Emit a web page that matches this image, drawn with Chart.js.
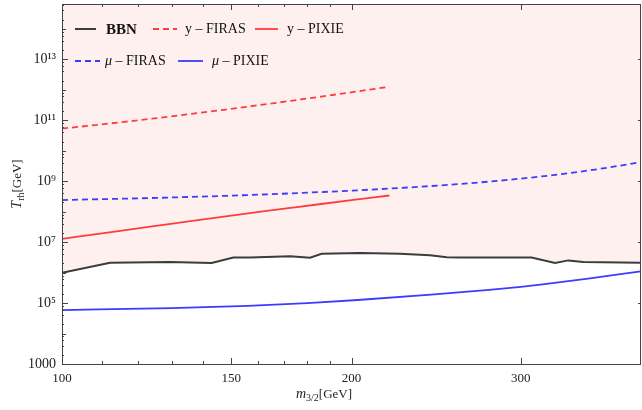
<!DOCTYPE html>
<html>
<head>
<meta charset="utf-8">
<script src="https://cdn.jsdelivr.net/npm/chart.js@4.4.1/dist/chart.umd.min.js"></script>
<style>
  html, body { margin: 0; padding: 0; background: #fff; }
  #wrap { width: 642px; height: 410px; }
</style>
</head>
<body>
<div id="wrap"><canvas id="chart" width="642" height="410"></canvas></div>
<script>
// values (m3/2 in GeV, T_rh in GeV)
const massBBN = [100, 112.2, 129.5, 143.1, 150.7, 156.9, 172.6, 181.1, 186.2, 204.1, 224.6, 241.3, 251.2, 259.3, 307.8, 325.6, 336.1, 348.4, 400];
const trhBBN = [9.9e5, 2.11e6, 2.21e6, 2.05e6, 3.13e6, 3.13e6, 3.44e6, 3.06e6, 4.11e6, 4.43e6, 4.11e6, 3.71e6, 3.2e6, 3.13e6, 3.13e6, 2.05e6, 2.51e6, 2.21e6, 2.11e6];

const massY = [100, 112, 124, 136, 148, 161, 173, 186, 199, 219];
const trhYFiras = [5.3e10, 7.78e10, 1.12e11, 1.6e11, 2.24e11, 3.18e11, 4.33e11, 5.96e11, 8.07e11, 1.25e12];
const trhYPixie = [1.28e7, 2.1e7, 3.27e7, 4.89e7, 7.0e7, 9.93e7, 1.33e8, 1.78e8, 2.33e8, 3.38e8];

const massMuFiras = [100, 124, 148, 181, 219, 254, 289, 330, 362, 400];
const trhMuFiras = [2.4e8, 2.8e8, 3.3e8, 4.22e8, 5.7e8, 7.69e8, 1.08e9, 1.69e9, 2.52e9, 4.22e9];

const massMuPixie = [100, 130, 156, 180, 203, 242, 278, 300, 316, 354, 400];
const trhMuPixie = [5.9e4, 6.82e4, 8.04e4, 9.95e4, 1.26e5, 1.9e5, 2.72e5, 3.42e5, 4.09e5, 6.43e5, 1.1e6];

const xTickValues = [100, 150, 200, 300];
const xMinorTicks = [110, 120, 130, 140, 160, 170, 180, 190];
const yTickValues = [1e3, 1e5, 1e7, 1e9, 1e11, 1e13];
const yTickLabels = ['1000', '10⁵', '10⁷', '10⁹', '10¹¹', '10¹³'];

const RED = 'rgb(255,60,60)';
const BLUE = 'rgb(60,60,255)';
const DARK = 'rgb(60,60,60)';
const SERIF = '"Liberation Serif", "DejaVu Serif", serif';

function pts(xs, ys) {
  return xs.map((x, i) => ({ x: x, y: ys[i] }));
}

// frame, inward ticks, axis titles and the two-row legend
const decorations = {
  id: 'decorations',
  afterDraw(chart) {
    const ctx = chart.ctx;
    const a = chart.chartArea;
    const xs = chart.scales.x, ys = chart.scales.y;
    ctx.save();
    ctx.strokeStyle = '#444';
    ctx.lineWidth = 1;
    ctx.strokeRect(a.left + 0.5, a.top + 0.5, a.right - a.left - 1, a.bottom - a.top);

    ctx.beginPath();
    xTickValues.forEach(v => {
      const px = Math.round(xs.getPixelForValue(v)) + 0.5;
      ctx.moveTo(px, a.bottom); ctx.lineTo(px, a.bottom - 6);
      ctx.moveTo(px, a.top); ctx.lineTo(px, a.top + 6);
    });
    xMinorTicks.forEach(v => {
      const px = Math.round(xs.getPixelForValue(v)) + 0.5;
      ctx.moveTo(px, a.bottom); ctx.lineTo(px, a.bottom - 3);
      ctx.moveTo(px, a.top); ctx.lineTo(px, a.top + 3);
    });
    for (let e = 3; e <= 14; e++) {
      [1, 2, 4, 6, 8].forEach(k => {
        const v = k * Math.pow(10, e);
        if (v > ys.max) return;
        const py = Math.round(ys.getPixelForValue(v)) + 0.5;
        let len = 2;
        if (k === 1) len = (e % 2 === 1) ? 6 : 4;
        ctx.moveTo(a.left, py); ctx.lineTo(a.left + len, py);
        if (k === 1 && e % 2 === 1) {
          ctx.moveTo(a.right, py); ctx.lineTo(a.right - 3, py);
        }
      });
    }
    ctx.stroke();

    // axis titles
    ctx.fillStyle = '#222';
    ctx.textBaseline = 'alphabetic';
    const drawTitle = (main, sub, rest, x0, y0) => {
      ctx.font = 'italic 14px ' + SERIF;
      const w1 = ctx.measureText(main).width;
      ctx.font = '10px ' + SERIF;
      const w2 = ctx.measureText(sub).width;
      ctx.font = '13px ' + SERIF;
      const w3 = ctx.measureText(rest).width;
      let x = x0 - (w1 + w2 + w3) / 2;
      ctx.textAlign = 'left';
      ctx.font = 'italic 14px ' + SERIF;
      ctx.fillText(main, x, y0); x += w1;
      ctx.font = '10px ' + SERIF;
      ctx.fillText(sub, x, y0 + 3); x += w2;
      ctx.font = '13px ' + SERIF;
      ctx.fillText(rest, x, y0);
    };
    drawTitle('m', '3/2', '[GeV]', 324, 398);
    ctx.save();
    ctx.translate(21, 184);
    ctx.rotate(-Math.PI / 2);
    drawTitle('T', 'rh', '[GeV]', 0, 0);
    ctx.restore();

    // legend
    const rows = [
      [[0, 75, 96, 106], [1, 153, 177, 185], [2, 255, 278, 287]],
      [[3, 75, 100, 105], [4, 178, 203, 212]]
    ];
    const rowY = [29, 61];
    rows.forEach((row, r) => {
      const y = rowY[r];
      row.forEach(([idx, x1, x2, tx]) => {
        const ds = chart.data.datasets[idx];
        ctx.beginPath();
        ctx.strokeStyle = ds.borderColor;
        ctx.lineWidth = ds.borderWidth;
        ctx.setLineDash(ds.borderDash || []);
        ctx.moveTo(x1, y); ctx.lineTo(x2, y);
        ctx.stroke();
        ctx.setLineDash([]);
        ctx.fillStyle = '#111';
        ctx.textAlign = 'left';
        const label = ds.label;
        let x = tx;
        if (idx === 0) {
          ctx.font = 'bold 15px ' + SERIF;
          ctx.fillText(label, x, y + 5);
          return;
        }
        const first = label.charAt(0);
        ctx.font = (first === 'μ' ? 'italic ' : '') + '14px ' + SERIF;
        ctx.fillText(first, x, y + 4);
        x += ctx.measureText(first).width;
        ctx.font = '14px ' + SERIF;
        ctx.fillText(label.slice(1), x, y + 4);
      });
    });
    ctx.restore();
  }
};

const lineBase = { pointRadius: 0, fill: false, borderWidth: 1.8, cubicInterpolationMode: 'monotone' };

new Chart(document.getElementById('chart'), {
  type: 'line',
  data: {
    datasets: [
      { label: 'BBN', data: pts(massBBN, trhBBN), borderColor: DARK, borderWidth: 2,
        pointRadius: 0, tension: 0, fill: 'end', backgroundColor: 'rgba(255,0,0,0.06)' },
      Object.assign({ label: 'y – FIRAS', data: pts(massY, trhYFiras), borderColor: RED, borderDash: [6, 4] }, lineBase),
      Object.assign({ label: 'y – PIXIE', data: pts(massY, trhYPixie), borderColor: RED }, lineBase),
      Object.assign({ label: 'μ – FIRAS', data: pts(massMuFiras, trhMuFiras), borderColor: BLUE, borderDash: [6, 4] }, lineBase),
      Object.assign({ label: 'μ – PIXIE', data: pts(massMuPixie, trhMuPixie), borderColor: BLUE }, lineBase)
    ]
  },
  options: {
    responsive: false,
    animation: false,
    layout: { padding: { top: 4, right: 1, left: 0, bottom: 0 } },
    plugins: {
      legend: { display: false },
      tooltip: { enabled: false },
      filler: { drawTime: 'beforeDatasetsDraw' }
    },
    scales: {
      x: {
        type: 'logarithmic',
        min: 100,
        max: 400,
        grid: { display: false, drawTicks: false },
        border: { display: false },
        afterBuildTicks: s => { s.ticks = xTickValues.map(v => ({ value: v })); },
        afterFit: s => { s.height = 46; s.paddingLeft = 0; s.paddingRight = 0; },
        ticks: {
          autoSkip: false,
          maxRotation: 0,
          padding: 7,
          color: '#222',
          font: { family: SERIF, size: 13 },
          callback: v => String(v)
        }
      },
      y: {
        type: 'logarithmic',
        min: 1e3,
        max: 6.5e14,
        grid: { display: false, drawTicks: false },
        border: { display: false },
        afterBuildTicks: s => { s.ticks = yTickValues.map(v => ({ value: v })); },
        afterFit: s => { s.width = 62; s.paddingTop = 0; s.paddingBottom = 0; },
        ticks: {
          autoSkip: false,
          padding: 6,
          color: '#222',
          font: { family: SERIF, size: 14 },
          callback: v => yTickLabels[yTickValues.indexOf(v)]
        }
      }
    }
  },
  plugins: [decorations]
});
</script>
</body>
</html>
